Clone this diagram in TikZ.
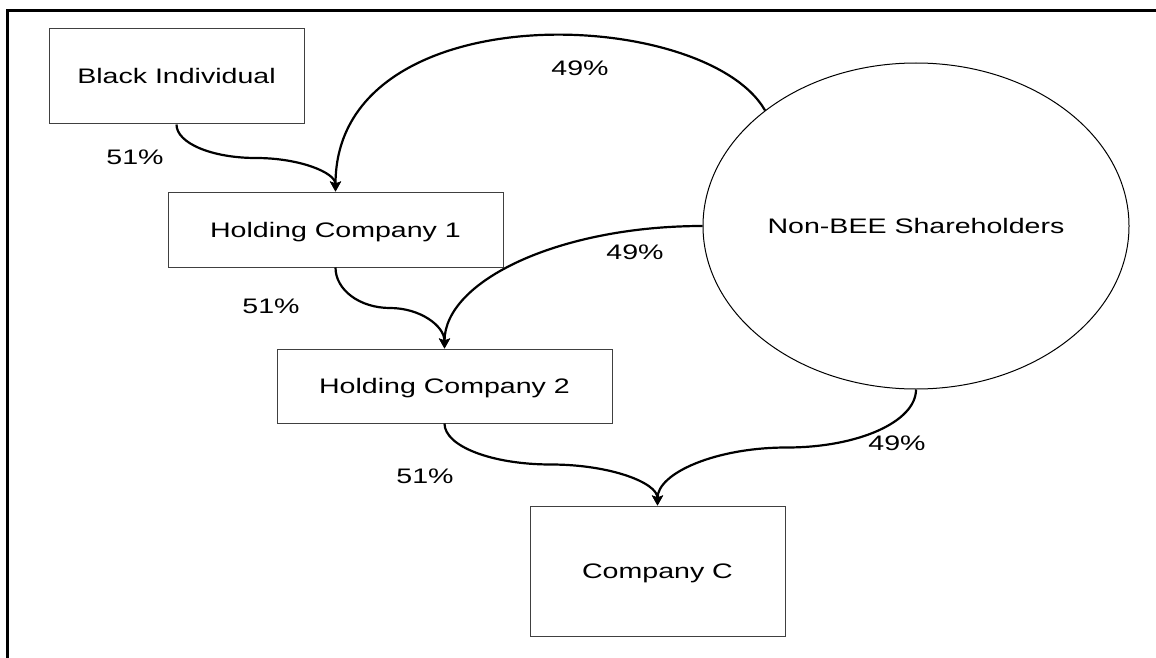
\documentclass[tikz,border=0pt]{standalone}
\usepackage{fontspec}
\setmainfont{Liberation Sans}
\usepackage{graphicx}
\usetikzlibrary{arrows.meta,calc,shapes.geometric}
\newcommand{\wideTxt}[1]{\scalebox{1.36}[1]{#1}}
\begin{document}
\begin{tikzpicture}[x=1pt,y=-1pt,
  lbl/.style={font=\fontsize{21}{25}\selectfont, text height=15pt, text depth=0pt, inner sep=0pt},
  boxnode/.style={lbl, draw=black!75, line width=1pt},
  ellnode/.style={lbl, ellipse, draw=black, line width=1pt},
  conn/.style={line width=2.2pt, -{Stealth[length=10pt,width=11pt,inset=2pt]}},
]
\useasboundingbox (0,0) rectangle (1156,658);
% frame (top and left only)
\draw[line width=3pt] (1156,10.5) -- (7.3,10.5) -- (7.3,658);

% nodes
\node[boxnode, minimum width=255pt, minimum height=95pt] (bi) at (176.5,76.5) {\wideTxt{Black Individual}};
\node[boxnode, minimum width=335pt, minimum height=75pt] (hc1) at (335.5,229.5) {\wideTxt{Holding Company 1}};
\node[boxnode, minimum width=335pt, minimum height=74pt] (hc2) at (444.5,386) {\wideTxt{Holding Company 2}};
\node[boxnode, minimum width=255pt, minimum height=130pt] (cc) at (657.5,571) {\wideTxt{Company C}};
\node[ellnode, minimum width=426pt, minimum height=326pt] (sh) at (916,226) {\wideTxt{Non-BEE Shareholders}};

% midpoints of S-shaped connectors
\coordinate (m1) at ($(bi.south)!0.5!(hc1.north)$);
\coordinate (m2) at ($(hc1.south)!0.5!(hc2.north)$);
\coordinate (m3) at ($(hc2.south)!0.5!(cc.north)$);
\coordinate (m4) at ($(sh.south)!0.5!(cc.north)$);

% connectors
\draw[conn] (bi.south) .. controls +(0,18.8) and +(-43.9,0) .. (m1)
                       .. controls +(43.9,0) and +(0,-18.8) .. (hc1.north);
\draw[conn] (hc1.south) .. controls +(0,22.6) and +(-30.1,0) .. (m2)
                        .. controls +(30.1,0) and +(0,-22.6) .. (hc2.north);
\draw[conn] (hc2.south) .. controls +(0,22.9) and +(-58.8,0) .. (m3)
                        .. controls +(58.8,0) and +(0,-22.9) .. (cc.north);
\draw[conn] (sh.south) .. controls +(0,32.3) and +(71.3,0) .. (m4)
                       .. controls +(-71.3,0) and +(0,-32.3) .. (cc.north);
\draw[conn] (sh.west) .. controls +(-142.7,0) and +(0,-67.9) .. (hc2.north);
\draw[conn] (sh.north west) .. controls +(-60,-104.7) and +(0,-200) .. (hc1.north);

% labels
\node[lbl] (l1) at (135,157) {\wideTxt{51\%}};
\node[lbl] (l2) at (271,305.5) {\wideTxt{51\%}};
\node[lbl] (l3) at (425,475.5) {\wideTxt{51\%}};
\node[lbl] (l4) at (580,68) {\wideTxt{49\%}};
\node[lbl] (l5) at (635,252) {\wideTxt{49\%}};
\node[lbl] (l6) at (897,443) {\wideTxt{49\%}};
\end{tikzpicture}
\end{document}
